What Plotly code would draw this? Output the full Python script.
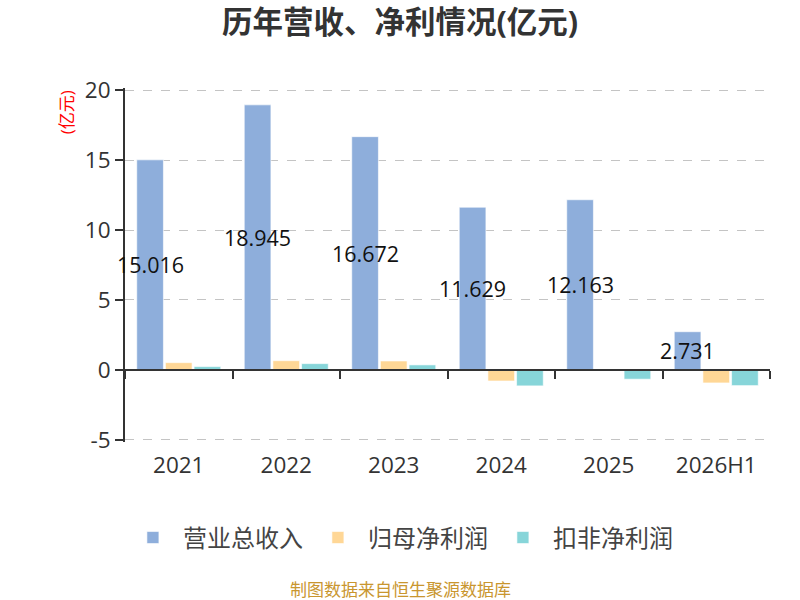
import plotly.graph_objects as go

categories = ["2021", "2022", "2023", "2024", "2025", "2026H1"]
revenue = [15.016, 18.945, 16.672, 11.629, 12.163, 2.731]
parent_profit = [0.52, 0.66, 0.64, -0.79, -0.05, -0.93]
deducted_profit = [0.24, 0.45, 0.36, -1.14, -0.66, -1.12]
revenue_labels = ["15.016", "18.945", "16.672", "11.629", "12.163", "2.731"]
y_tick_values = [-5, 0, 5, 10, 15, 20]
y_tick_labels = ["-5", "0", "5", "10", "15", "20"]

FONT = "Open Sans, Noto Sans CJK SC, sans-serif"
colors = ["#8eaedb", "#ffd796", "#87d5d9"]
names = ["营业总收入", "归母净利润", "扣非净利润"]
series = [revenue, parent_profit, deducted_profit]

fig = go.Figure()
for name, vals, col in zip(names, series, colors):
    fig.add_trace(go.Bar(
        x=categories, y=vals, name=name,
        marker=dict(color=col, line=dict(color="rgba(255,255,255,0.6)", width=1)),
        hoverinfo="x+y",
    ))

# invisible trace to carry the axis drawn at y=0
fig.add_trace(go.Scatter(x=categories, y=[None] * len(categories), xaxis="x2",
                         showlegend=False, hoverinfo="skip", mode="lines"))

n = len(names)
bargap = 0.2
slot = (1 - bargap) / n
for i, (v, lab) in enumerate(zip(revenue, revenue_labels)):
    fig.add_annotation(x=i - (1 - bargap) / 2 + slot / 2, y=v / 2, xref="x", yref="y",
                       text=lab, showarrow=False,
                       font=dict(size=21.5, color="#111", family=FONT))

fig.add_annotation(x=-0.112, y=1.0, xref="paper", yref="paper", text="(亿元)",
                   textangle=-90, showarrow=False,
                   font=dict(size=17, color="red", family=FONT))
fig.add_annotation(x=0.427, y=-0.418, xref="paper", yref="paper",
                   text="制图数据来自恒生聚源数据库", showarrow=False,
                   xanchor="center", yanchor="middle",
                   font=dict(size=17, color="#c9962f", family=FONT))

ymin, ymax = -5.15, 20.15
fig.update_layout(
    width=800, height=600,
    paper_bgcolor="white", plot_bgcolor="white",
    margin=dict(l=125, r=30, t=88, b=158),
    barmode="group", bargap=bargap, bargroupgap=0.07,
    title=dict(text="<b>历年营收、净利情况(亿元)</b>", x=0.5, xanchor="center",
               y=0.963, yanchor="middle",
               font=dict(size=30.5, color="#333", family=FONT)),
    font=dict(family=FONT),
    legend=dict(orientation="h", x=0.427, xanchor="center", y=-0.271, yanchor="middle",
                font=dict(size=24, color="#444", family=FONT),
                itemwidth=50, traceorder="normal"),
    xaxis=dict(type="category", range=[-0.5, len(categories) - 0.5],
               showline=False, ticks="", showgrid=False,
               tickfont=dict(size=22.5, color="#333", family=FONT),
               ticklabelstandoff=7),
    xaxis2=dict(type="category", overlaying="x", matches="x", anchor="free",
                position=(0 - ymin) / (ymax - ymin), side="bottom", showline=True,
                linecolor="#333", linewidth=2, ticks="outside", ticklen=8, tickwidth=2,
                tickcolor="#333", tickson="boundaries", showticklabels=False,
                showgrid=False),
    yaxis=dict(range=[ymin, ymax], tickvals=y_tick_values, ticktext=y_tick_labels,
               showline=True, linecolor="#333", linewidth=2,
               ticks="outside", ticklen=8, tickwidth=2, tickcolor="#333",
               showgrid=True, gridcolor="#c4c4c4", griddash="dash", gridwidth=1.3,
               zeroline=False,
               tickfont=dict(size=22.5, color="#333", family=FONT)),
)

fig.write_html("out.html", config={"displayModeBar": False},
               post_script="document.body.style.margin='0';document.body.style.overflow='hidden';")
